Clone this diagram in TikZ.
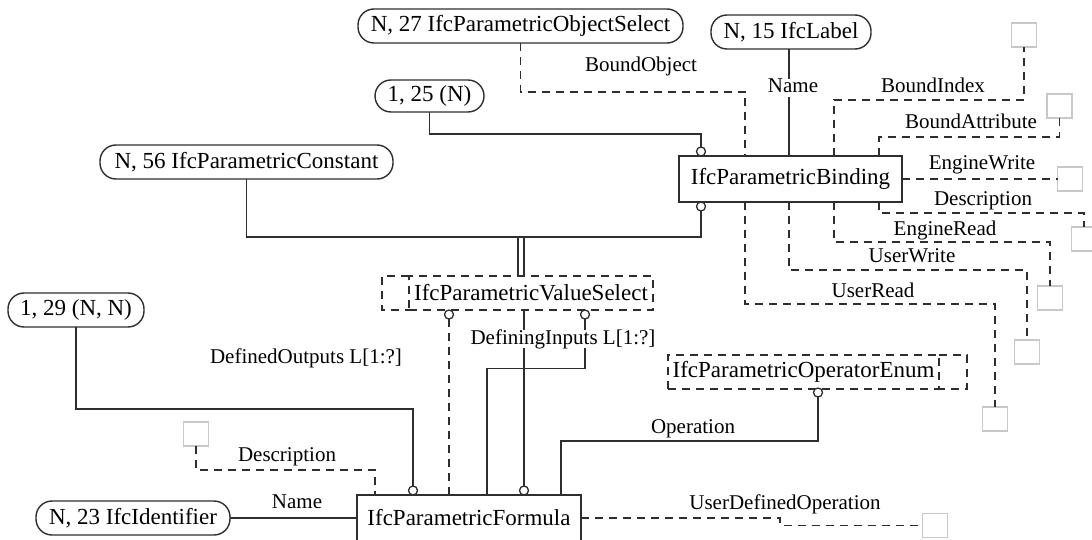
\documentclass[tikz,border=0pt]{standalone}
\usepackage{fontspec}
\setmainfont{Liberation Serif}
\definecolor{lc}{HTML}{2E2E2E}
\definecolor{sqc}{HTML}{C8C8C8}
\begin{document}
\begin{tikzpicture}[x=1pt,y=-1pt,
  every node/.style={inner sep=0pt, outer sep=0pt},
  ln/.style={draw=lc, line width=1.4pt},
  dl/.style={draw=lc, line width=1.4pt, dash pattern=on 8pt off 6pt},
  pill/.style={draw=lc, line width=1.4pt, rounded corners=16pt, minimum height=34pt, font=\fontsize{23}{27}\selectfont},
  ent/.style={draw=lc, line width=1.4pt, minimum height=46pt, fill=white, font=\fontsize{23}{27}\selectfont},
  seltype/.style={draw=lc, line width=1.4pt, dash pattern=on 8pt off 6pt, minimum height=34pt, font=\fontsize{23}{27}\selectfont},
  lab/.style={font=\fontsize{21}{25}\selectfont, text height=14pt, text depth=4pt},
  sq/.style={draw=sqc, line width=1.4pt, minimum width=25pt, minimum height=24pt},
  ring/.style={circle, draw=lc, fill=white, minimum size=9pt, line width=1.3pt}
]
\useasboundingbox (0,0) rectangle (1092,540);
\clip (0,0) rectangle (1092,540);

% helper x positions
\coordinate (c745) at (745,0);
\coordinate (c789) at (789,0);
\coordinate (c834) at (834,0);
\coordinate (c879) at (879,0);
\coordinate (c487) at (487,0);
\coordinate (c561) at (561,0);
\coordinate (c375) at (375,0);
\coordinate (c524) at (524,0);
\coordinate (j1) at (518,237);
\coordinate (j2) at (524,237);

% pills
\node[pill, minimum width=325pt] (objsel) at (520.5,26) {N, 27 IfcParametricObjectSelect};
\node[pill, minimum width=160pt] (lbl) at (791,32) {N, 15 IfcLabel};
\node[pill, minimum width=109pt, minimum height=32pt] (p125) at (429.5,96) {1, 25 (N)};
\node[pill, minimum width=293pt] (pconst) at (246.5,162) {N, 56 IfcParametricConstant};
\node[pill, minimum width=136pt] (p129) at (76,310) {1, 29 (N, N)};
\node[pill, minimum width=194pt] (pid) at (133,518) {N, 23 IfcIdentifier};

% entities
\node[ent, minimum width=223pt] (bind) at (790.5,179) {IfcParametricBinding};
\node[ent, minimum width=224pt] (form) at (469,518) {IfcParametricFormula};

% select / enum types
\node[seltype, minimum width=244pt] (valsel) at (531,293) {IfcParametricValueSelect};
\draw[dl] (valsel.north west) -- ++(-27,0) |- (valsel.south west);
\node[seltype, minimum width=271pt] (openum) at (803.5,372) {IfcParametricOperatorEnum};
\draw[dl] (openum.north east) -- ++(28,0) |- (openum.south east);

% squares
\node[sq] (sq1) at (1024,35) {};
\node[sq] (sq2) at (1059.5,106) {};
\node[sq] (sq3) at (1070,179) {};
\node[sq] (sq4) at (1084,239) {};
\node[sq] (sq5) at (1050,298) {};
\node[sq] (sq6) at (1027,352) {};
\node[sq] (sq7) at (995,419) {};
\node[sq] (sq8) at (196,434) {};
\node[sq] (sq9) at (935,525.5) {};

% rings
\node[ring] (r1) at (701,151.5) {};
\node[ring] (r2) at (701,206.5) {};
\node[ring] (r3) at (449,314.5) {};
\node[ring] (r4) at (585,314.5) {};
\node[ring] (r5) at (413,490.5) {};
\node[ring] (r6) at (524,490.5) {};
\node[ring] (r7) at (818,392.5) {};

% connectors
\draw[dl] (objsel.south) -- ++(0,49) -| (bind.north -| c745);
\draw[ln] (lbl.south -| c789) -- (bind.north -| c789);
\draw[ln] (p125.south) -- ++(0,22) -| (r1.north);
\draw[ln] (pconst.south) -- ++(0,58) -| (r2.south);
\draw[ln] (j1) -- (valsel.north -| j1);
\draw[ln] (j2) -- (valsel.north -| j2);
\draw[dl] (r3.south) -- (form.north -| r3);
\draw[ln] (valsel.south -| c524) -- (r6.north);
\draw[ln] (r4.south) -- ++(0,49.5) -| (form.north -| c487);
\draw[ln] (p129.south) -- ++(0,82) -| (r5.north);
\draw[dl] (sq8.south) -- ++(0,24) -| (form.north -| c375);
\draw[ln] (pid.east) -- (form.west);
\draw[ln] (r7.south) -- ++(0,44) -| (form.north -| c561);
\draw[dl] (form.east) -- ++(199,0) |- (sq9.west);
\draw[dl] (bind.north -| c834) -- ++(0,-56) -| (sq1.south);
\draw[dl] (bind.north -| c879) -- ++(0,-19) -| (sq2.south);
\draw[dl] (bind.east) -- (sq3.west);
\draw[dl] (bind.south -| c879) -- ++(0,11) -| (sq4.north);
\draw[dl] (bind.south -| c834) -- ++(0,40) -| (sq5.north);
\draw[dl] (bind.south -| c789) -- ++(0,68) -| (sq6.north);
\draw[dl] (bind.south -| c745) -- ++(0,102) -| (sq7.north);

% labels
\node[lab] (lBO) at (641,67) {BoundObject};
\node[lab, fill=white, inner xsep=2pt] (lNm1) at (793,88) {Name};
\node[lab] (lBI) at (933,88) {BoundIndex};
\node[lab] (lBA) at (971,124) {BoundAttribute};
\node[lab] (lEW) at (982,165) {EngineWrite};
\node[lab] (lDs1) at (983,201) {Description};
\node[lab] (lER) at (945,230) {EngineRead};
\node[lab] (lUW) at (912,257) {UserWrite};
\node[lab] (lUR) at (873,292) {UserRead};
\node[lab, fill=white, inner xsep=2pt] (lDI) at (563,339) {DefiningInputs L[1:?]};
\node[lab] (lDO) at (306,358) {DefinedOutputs L[1:?]};
\node[lab] (lDs2) at (287,456) {Description};
\node[lab] (lNm2) at (297,503) {Name};
\node[lab] (lOp) at (693,428) {Operation};
\node[lab] (lUDO) at (785,504) {UserDefinedOperation};
\end{tikzpicture}
\end{document}
